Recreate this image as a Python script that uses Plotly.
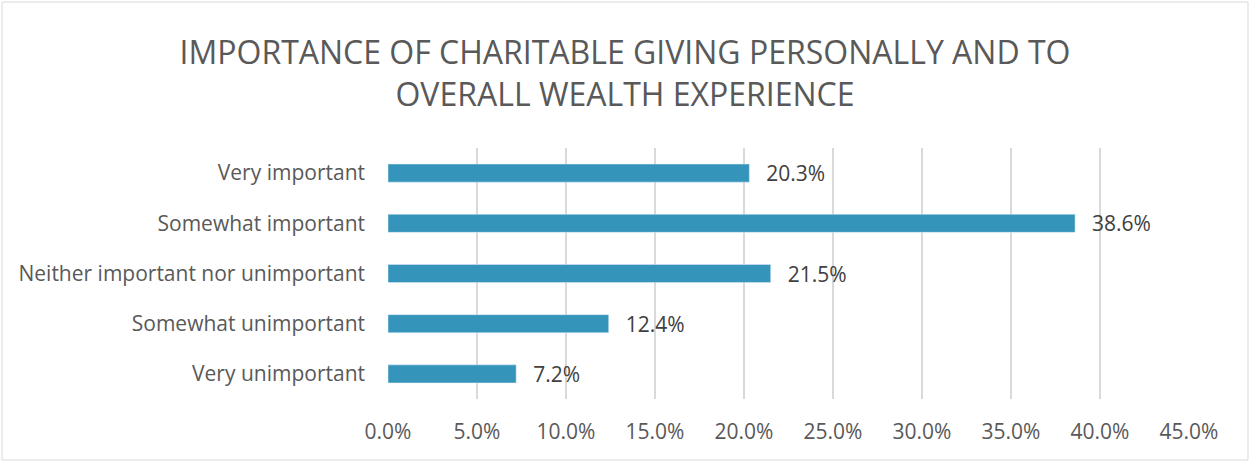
import plotly.graph_objects as go

categories = [
    "Very important",
    "Somewhat important",
    "Neither important nor unimportant",
    "Somewhat unimportant",
    "Very unimportant",
]
shares = [20.3, 38.6, 21.5, 12.4, 7.2]
tick_values = [0, 5, 10, 15, 20, 25, 30, 35, 40, 45]
tick_labels = [f"{v:.1f}%" for v in tick_values]

W, H = 1250, 462
L, R, T, B = 388, 61, 148, 63
grey = "#595959"

fig = go.Figure(
    go.Bar(
        x=shares,
        y=categories,
        orientation="h",
        width=0.36,
        marker_color="#3494BA",
        text=[f"\u2002\u2009{v:.1f}%" for v in shares],
        textposition="outside",
        constraintext="none",
        textfont=dict(size=21, color="#404040"),
        cliponaxis=False,
    )
)

pw, ph = W - L - R, H - T - B
fig.add_shape(
    type="rect", xref="paper", yref="paper",
    x0=-(L - 2) / pw, x1=1 + (R - 2) / pw,
    y0=-(B - 2) / ph, y1=1 + (T - 2) / ph,
    line=dict(color="#D9D9D9", width=1), fillcolor="rgba(0,0,0,0)",
)

fig.update_layout(
    width=W,
    height=H,
    paper_bgcolor="white",
    plot_bgcolor="white",
    font=dict(family="Open Sans, Liberation Sans, sans-serif", color=grey, size=21),
    title=dict(
        text="IMPORTANCE OF CHARITABLE GIVING PERSONALLY AND TO<br>OVERALL WEALTH EXPERIENCE",
        x=0.5,
        xanchor="center",
        y=1 - 64 / H,
        yanchor="middle",
        font=dict(size=32, color=grey),
    ),
    margin=dict(l=L, r=R, t=T, b=B),
    showlegend=False,
)
fig.update_xaxes(
    range=[0, 45],
    tickvals=tick_values,
    ticktext=tick_labels,
    showgrid=True,
    gridcolor="#D9D9D9",
    gridwidth=1.5,
    zeroline=False,
    showline=False,
    ticks="",
    tickfont=dict(size=21, color=grey),
    ticklabelstandoff=18,
    automargin=False,
)
fig.update_yaxes(
    autorange="reversed",
    showgrid=False,
    ticks="",
    tickfont=dict(size=21, color=grey),
    ticklabelstandoff=22,
    automargin=False,
)

fig.write_html(
    "out.html",
    config={"displayModeBar": False},
    post_script="document.body.style.margin='0';",
)
